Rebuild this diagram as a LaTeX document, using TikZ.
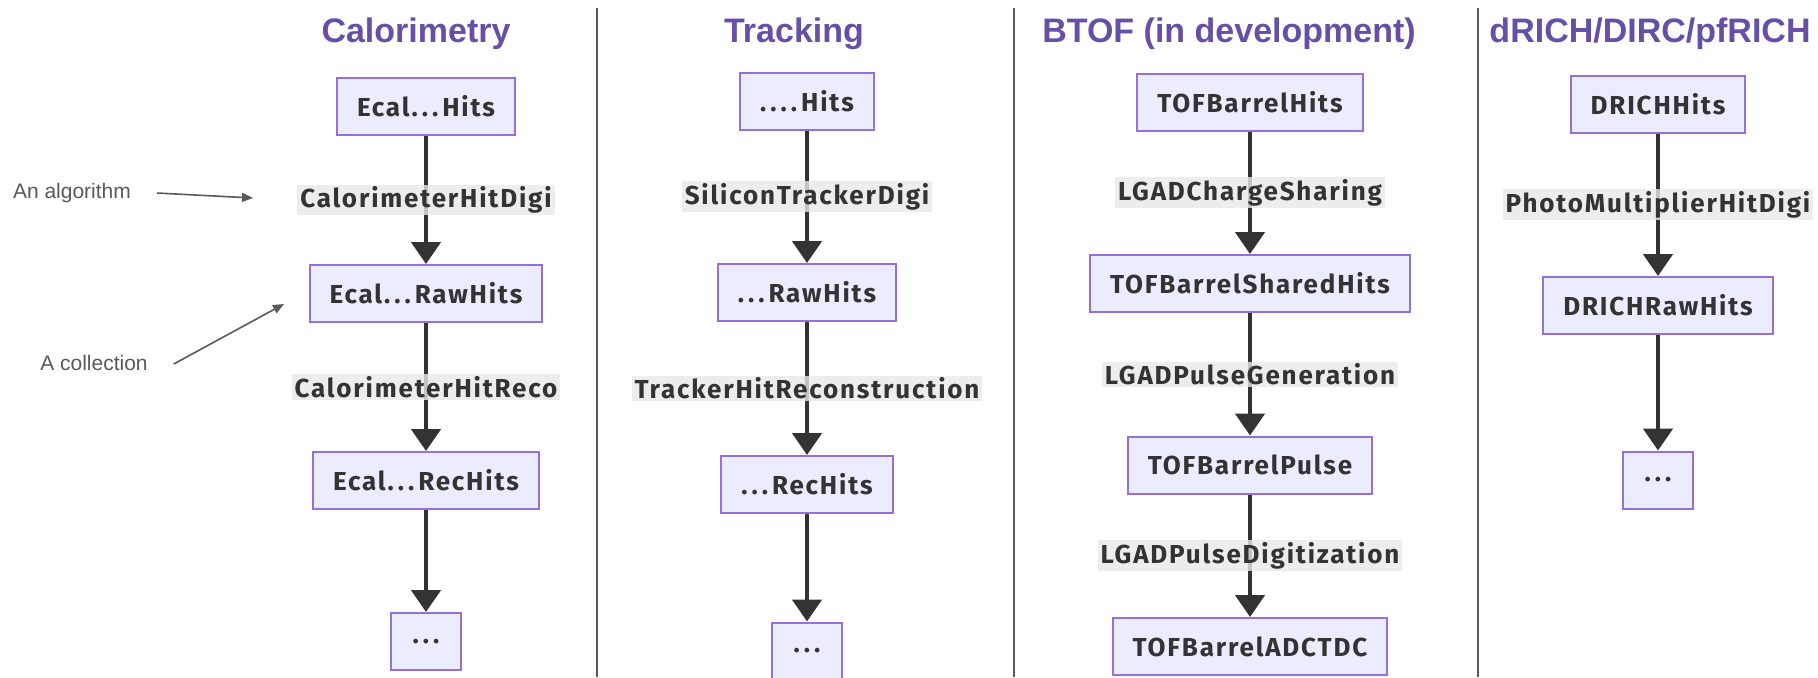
\documentclass[tikz,border=0pt]{standalone}
\usepackage{fontspec}
\setmainfont{Liberation Sans}
\newfontfamily\boxfont{Fira Sans}[LetterSpace=7, Ligatures=NoCommon]
\usetikzlibrary{arrows.meta}
\definecolor{boxfill}{HTML}{ECECFF}
\definecolor{boxline}{HTML}{9370DB}
\definecolor{ink}{HTML}{333333}
\definecolor{lblbg}{HTML}{E8E8E8}
\definecolor{headcol}{HTML}{674EA7}
\definecolor{notecol}{HTML}{595959}
\definecolor{rulecol}{HTML}{5A5A5A}
% spaced-out run of dots
\newcommand\dotsep{\kern2pt}
\newcommand\threedots{.\dotsep.\dotsep.\dotsep}
\newcommand\fourdots{.\dotsep.\dotsep.\dotsep.\dotsep}
\tikzset{
  coll/.style={draw=boxline, line width=1pt, fill=boxfill, text=ink,
    font=\boxfont\bfseries\fontsize{13}{15}\selectfont,
    inner xsep=10pt, minimum height=28.5pt},
  dots/.style={coll, minimum width=35pt},
  alg/.style={fill=lblbg, fill opacity=0.8, text opacity=1, text=ink,
    font=\boxfont\bfseries\fontsize{13}{15}\selectfont,
    inner xsep=1.5pt, inner ysep=1pt},
  flow/.style={draw=ink, line width=2.4pt,
    -{Triangle[length=11pt,width=14.5pt]}},
  head/.style={text=headcol, font=\bfseries\fontsize{17}{20}\selectfont, anchor=base},
  note/.style={text=notecol, font=\fontsize{10.5}{12}\selectfont},
  pointer/.style={draw=notecol, line width=0.8pt,
    -{Triangle[length=5.5pt,width=4.5pt]}},
  divider/.style={draw=rulecol, line width=1pt}
}
\begin{document}
\begin{tikzpicture}[x=0.5pt, y=-0.5pt]
\useasboundingbox (0,0) rectangle (1818,677);

% column separators
\draw[divider] (597,8) -- (597,677);
\draw[divider] (1014,8) -- (1014,677);
\draw[divider] (1478,8) -- (1478,677);

% headings
\node[head] (hCal) at (416,42) {Calorimetry};
\node[head] (hTrk) at (794,42) {Tracking};
\node[head] (hTof) at (1229,42) {BTOF (in development)};
\node[head] (hRich) at (1650,42) {dRICH/DIRC/pfRICH};

% calorimetry chain
\node[coll] (calHits) at (426,106.5) {Ecal\threedots Hits};
\node[coll] (calRaw) at (426,293.5) {Ecal\threedots RawHits};
\node[coll] (calRec) at (426,480.5) {Ecal\threedots RecHits};
\node[dots] (calMore) at (426,641.5) {.\dotsep.\dotsep.};
\draw[flow] (calHits) -- node[alg] (calDigi) {CalorimeterHitDigi} (calRaw);
\draw[flow] (calRaw) -- node[alg] (calReco) {CalorimeterHitReco} (calRec);
\draw[flow] (calRec) -- (calMore);

% legend notes
\node[note] (noteAlg) at (72,193) {An algorithm};
\node[note] (noteColl) at (94,363) {A collection};
\coordinate (algTip) at (253,198);
\coordinate (collTip) at (284,304);
\draw[pointer] (noteAlg.east) ++(19,0) coordinate (algStart) -- (algTip);
\draw[pointer] (noteColl.east) ++(19,1) coordinate (collStart) -- (collTip);

% tracking chain
\node[coll] (trkHits) at (807,101) {\fourdots Hits};
\node[coll] (trkRaw) at (807,292.5) {\threedots RawHits};
\node[coll] (trkRec) at (807,484.5) {\threedots RecHits};
\node[dots] (trkMore) at (807,651) {.\dotsep.\dotsep.};
\draw[flow] (trkHits) -- node[alg] (trkDigi) {SiliconTrackerDigi} (trkRaw);
\draw[flow] (trkRaw) -- node[alg] (trkReco) {TrackerHitReconstruction} (trkRec);
\draw[flow] (trkRec) -- (trkMore);

% barrel TOF chain
\node[coll] (tofHits) at (1250,102) {TOFBarrelHits};
\node[coll] (tofShared) at (1250,283.5) {TOFBarrelSharedHits};
\node[coll] (tofPulse) at (1250,465) {TOFBarrelPulse};
\node[coll] (tofAdc) at (1250,646.5) {TOFBarrelADCTDC};
\draw[flow] (tofHits) -- node[alg] (tofShare) {LGADChargeSharing} (tofShared);
\draw[flow] (tofShared) -- node[alg] (tofGen) {LGADPulseGeneration} (tofPulse);
\draw[flow] (tofPulse) -- node[alg] (tofDig) {LGADPulseDigitization} (tofAdc);

% RICH / DIRC chain
\node[coll] (richHits) at (1658,104) {DRICHHits};
\node[coll] (richRaw) at (1658,305.5) {DRICHRawHits};
\node[dots] (richMore) at (1658,480) {.\dotsep.\dotsep.};
\draw[flow] (richHits) -- node[alg] (richDigi) {PhotoMultiplierHitDigi} (richRaw);
\draw[flow] (richRaw) -- (richMore);
\end{tikzpicture}
\end{document}
